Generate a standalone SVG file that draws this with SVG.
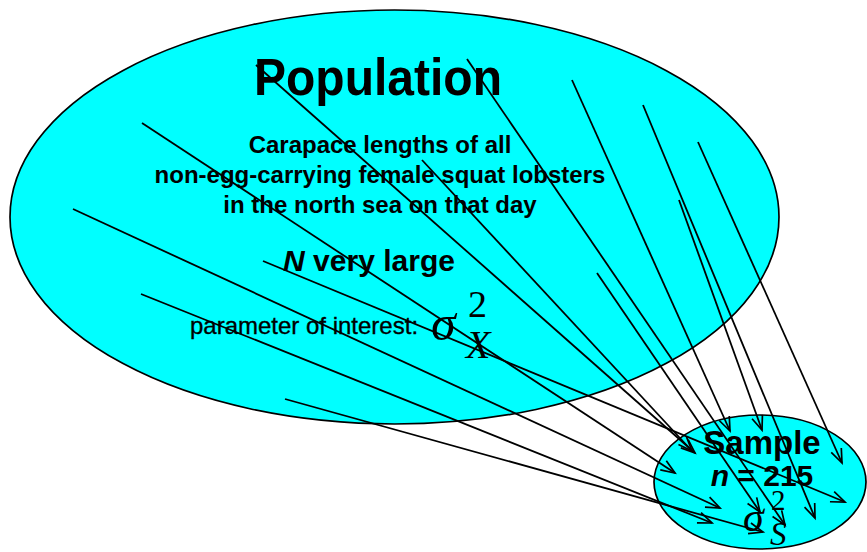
<svg xmlns="http://www.w3.org/2000/svg" width="867" height="552" viewBox="0 0 867 552">
<defs>
<style>
.pop{fill:#00ffff;stroke:#000;stroke-width:1.7}
.t{font-family:"Liberation Sans",Arial,sans-serif;fill:#000;text-anchor:middle}
.b{font-weight:bold}
.m{font-family:"Liberation Serif","Times New Roman",serif;fill:#000}
.c line{stroke:#000;stroke-width:1.8;fill:none;marker-end:url(#arr)}
</style>
<marker id="arr" markerUnits="userSpaceOnUse" markerWidth="18" markerHeight="14" refX="15" refY="7" orient="auto" viewBox="0 0 18 14">
<path d="M1,1.5 L15,7 L1,12.5" fill="none" stroke="#000" stroke-width="1.7"/>
</marker>
</defs>
<g id="population">
<ellipse class="pop" cx="394.5" cy="217" rx="384.5" ry="207"/>
<text class="t b" x="378" y="95" font-size="52" textLength="248" lengthAdjust="spacingAndGlyphs">Population</text>
<text class="t b" x="380" y="153" font-size="24">Carapace lengths of all</text>
<text class="t b" x="380" y="183" font-size="24">non-egg-carrying female squat lobsters</text>
<text class="t b" x="380" y="213" font-size="24">in the north sea on that day</text>
<text class="t b" x="369" y="271" font-size="30" textLength="172" lengthAdjust="spacingAndGlyphs"><tspan font-style="italic">N</tspan> very large</text>
<text class="t" x="304" y="334" font-size="24" stroke="#000" stroke-width="0.35">parameter of interest:</text>
<text class="m" x="431" y="340" font-size="50" font-style="italic">σ</text>
<text class="m" x="468" y="317" font-size="38">2</text>
<text class="m" x="466" y="358" font-size="40" font-style="italic">X</text>
</g>
<g id="sample">
<ellipse class="pop" cx="760" cy="482" rx="106" ry="67"/>
<text class="t b" x="762" y="454" font-size="33">Sample</text>
<text class="t b" x="762" y="486" font-size="30"><tspan font-style="italic">n</tspan> = 215</text>
<text class="m" x="743" y="531" font-size="42" font-style="italic">σ</text>
<text class="m" x="771" y="510" font-size="29">2</text>
<text class="m" x="770" y="545" font-size="33" font-style="italic">S</text>
</g>
<g id="connectors" class="c">
<line x1="142" y1="123" x2="675" y2="473"/>
<line x1="256" y1="65" x2="695" y2="453"/>
<line x1="467" y1="59" x2="785" y2="525"/>
<line x1="572" y1="80" x2="730" y2="431"/>
<line x1="643" y1="105" x2="815" y2="518"/>
<line x1="698" y1="142" x2="842" y2="463"/>
<line x1="422" y1="160" x2="692" y2="451"/>
<line x1="73" y1="209" x2="720" y2="508"/>
<line x1="263" y1="261" x2="845" y2="502"/>
<line x1="679" y1="200" x2="762" y2="430"/>
<line x1="141" y1="294" x2="712" y2="523"/>
<line x1="285" y1="399" x2="763" y2="532"/>
<line x1="597" y1="273" x2="760" y2="512"/>
</g>
</svg>
